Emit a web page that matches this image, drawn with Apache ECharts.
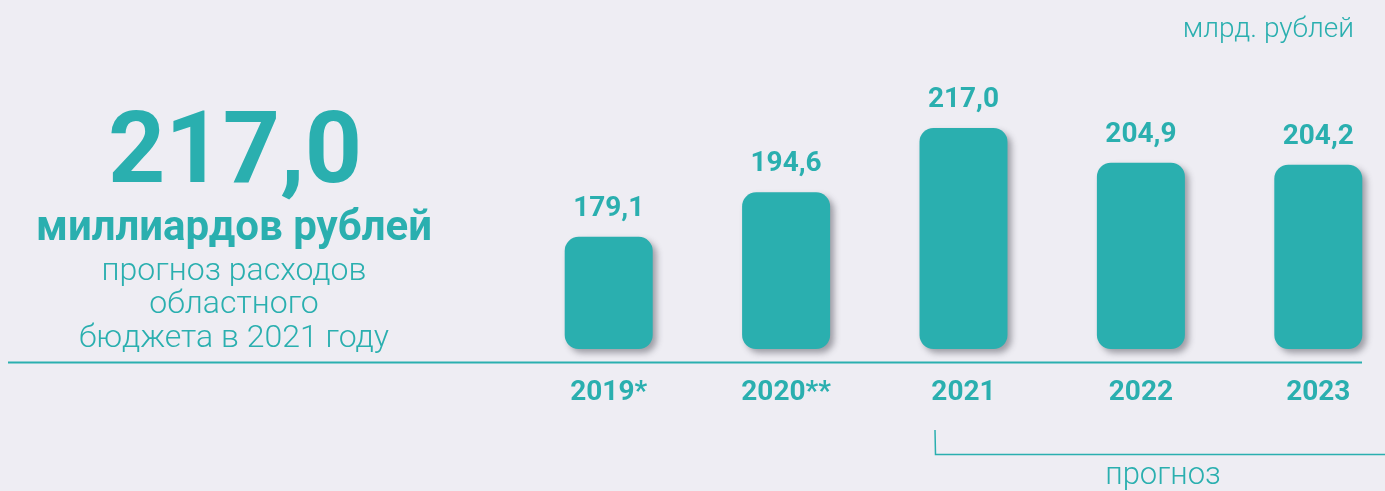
<!DOCTYPE html>
<html>
<head>
<meta charset="utf-8">
<script src="https://cdn.jsdelivr.net/npm/echarts@6/dist/echarts.min.js"></script>
<style>
  html, body { margin: 0; padding: 0; background: #eeedf3; }
  #chart { width: 1385px; height: 491px; }
</style>
</head>
<body>
<div id="chart"></div>
<script>
// годы и значения (млрд. рублей)
var years = ['2019*', '2020**', '2021', '2022', '2023'];
var values = [179.1, 194.6, 217.0, 204.9, 204.2];
var headline = '217,0';
var unitText = 'млрд. рублей';
var forecastText = 'прогноз';

var teal = '#2aafaf';
var font = 'Roboto, "Noto Sans", sans-serif';

function fmt(v) {
    return v.toFixed(1).replace('.', ',');
}

// позиции столбцов на оси-значении (0..4)
var barData = values.map(function (v, i) { return [i, v]; });
var positions = years.map(function (y, i) { return i; });

var chart = echarts.init(document.getElementById('chart'));

var option = {
    backgroundColor: '#eeedf3',
    animation: false,
    grid: {
        left: 520,
        right: 0,
        top: 62,
        bottom: 142
    },
    xAxis: {
        type: 'value',
        min: -0.5,
        max: 4.376,
        splitLine: { show: false },
        axisLine: { show: false },
        axisTick: { show: false },
        axisLabel: {
            customValues: positions,
            margin: 30,
            color: teal,
            fontFamily: font,
            fontWeight: 'bold',
            fontSize: 28,
            formatter: function (v) { return years[Math.round(v)] || ''; }
        }
    },
    yAxis: {
        type: 'value',
        min: 140,
        max: 240,
        show: false
    },
    series: [{
        type: 'bar',
        data: barData,
        barWidth: 88,
        itemStyle: {
            color: teal,
            borderRadius: 14,
            shadowColor: 'rgba(60,60,70,0.45)',
            shadowBlur: 6,
            shadowOffsetX: 4,
            shadowOffsetY: 4
        },
        label: {
            show: true,
            position: 'top',
            distance: 14,
            color: teal,
            fontFamily: font,
            fontWeight: 'bold',
            fontSize: 28,
            formatter: function (p) { return fmt(p.value[1]); }
        }
    }],
    graphic: [
        // базовая линия
        {
            type: 'line',
            shape: { x1: 8, y1: 362.5, x2: 1362, y2: 362.5 },
            style: { stroke: teal, lineWidth: 2 }
        },
        // скобка "прогноз"
        {
            type: 'polyline',
            shape: { points: [[935, 430], [935.5, 454.5], [1385, 454.5]] },
            style: { stroke: teal, lineWidth: 1.5, fill: null }
        },
        {
            type: 'text',
            x: 1163, y: 492,
            style: {
                text: forecastText, fill: teal, font: '300 31px ' + font,
                textAlign: 'center', textVerticalAlign: 'bottom'
            }
        },
        {
            type: 'text',
            x: 1354, y: 44,
            style: {
                text: unitText, fill: teal, font: '300 28px ' + font,
                textAlign: 'right', textVerticalAlign: 'bottom'
            }
        },
        // левый блок
        {
            type: 'text',
            x: 235, y: 157,
            style: {
                text: headline, fill: teal, font: 'bold 100px ' + font,
                textAlign: 'center', textVerticalAlign: 'middle'
            }
        },
        {
            type: 'text',
            x: 234, y: 229,
            style: {
                text: 'миллиардов рублей', fill: teal, font: 'bold 42px ' + font,
                textAlign: 'center', textVerticalAlign: 'middle'
            }
        },
        {
            type: 'text',
            x: 234, y: 272,
            style: {
                text: 'прогноз расходов', fill: teal, font: '300 32px ' + font,
                textAlign: 'center', textVerticalAlign: 'middle'
            }
        },
        {
            type: 'text',
            x: 234, y: 305,
            style: {
                text: 'областного', fill: teal, font: '300 32px ' + font,
                textAlign: 'center', textVerticalAlign: 'middle'
            }
        },
        {
            type: 'text',
            x: 234, y: 339,
            style: {
                text: 'бюджета в 2021 году', fill: teal, font: '300 32px ' + font,
                textAlign: 'center', textVerticalAlign: 'middle'
            }
        }
    ]
};

chart.setOption(option);
</script>
</body>
</html>
